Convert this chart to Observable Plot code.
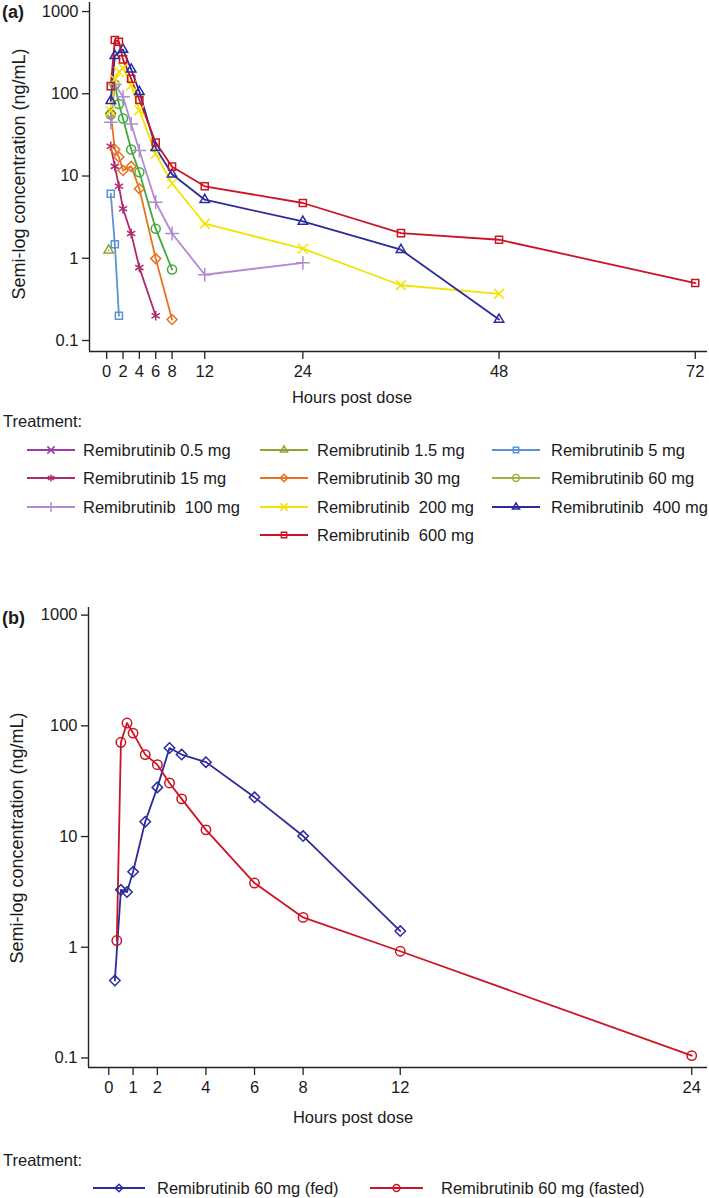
<!DOCTYPE html>
<html><head><meta charset="utf-8">
<script src="https://cdn.jsdelivr.net/npm/d3@7"></script>
<script src="https://cdn.jsdelivr.net/npm/@observablehq/plot@0.6"></script>
<style>
body{margin:0;background:#fff;font-family:"Liberation Sans",Arial,sans-serif;color:#1a1a1a;}
#page{position:relative;width:709px;height:1198px;overflow:hidden;background:#fff}
.abs{position:absolute;white-space:pre;line-height:1}
.plot{position:absolute;left:0}
</style></head><body><div id="page"></div>
<script>
// ---------- Panel (a) data ----------
const seriesA = ["Remibrutinib 0.5 mg","Remibrutinib 1.5 mg","Remibrutinib 5 mg","Remibrutinib 15 mg","Remibrutinib 30 mg","Remibrutinib 60 mg","Remibrutinib  100 mg","Remibrutinib  200 mg","Remibrutinib  400 mg","Remibrutinib  600 mg"];
const hours_0_5mg = [];            const conc_0_5mg = [];
const hours_1_5mg = [0.25];        const conc_1_5mg = [1.25];
const hours_5mg   = [0.5,1,1.5];   const conc_5mg   = [6.1,1.48,0.2];
const hours_15mg  = [0.5,1,1.5,2,3,4,6];       const conc_15mg = [23,13.1,7.5,4.0,2.0,0.77,0.2];
const hours_30mg  = [0.5,1,1.5,2,3,4,6,8];     const conc_30mg = [58,21,17,11.7,13.1,7.0,0.99,0.18];
const hours_60mg  = [0.5,1,1.5,2,3,4,6,8];     const conc_60mg = [56,130,75,50,21,11.1,2.29,0.73];
const hours_100mg = [0.5,1,2,3,4,6,8,12,24];   const conc_100mg = [45,130,92,43,20.4,4.8,2.0,0.63,0.88];
const hours_200mg = [0.5,1,1.5,2,3,4,6,8,12,24,36,48]; const conc_200mg = [62,150,185,205,126,63,18.6,8.1,2.63,1.31,0.47,0.37];
const hours_400mg = [0.5,1,2,3,4,6,8,12,24,36,48];     const conc_400mg = [82,290,345,198,106,22,10.5,5.15,2.8,1.27,0.18];
const hours_600mg = [0.5,1,1.5,2,3,4,6,8,12,24,36,48,72]; const conc_600mg = [124,450,430,262,152,84,25.5,13,7.5,4.7,2.02,1.68,0.5];
const xTicksA = [0,2,4,6,8,12,24,48,72];
const yTicks = [0.1,1,10,100,1000];

// ---------- Panel (b) data ----------
const seriesB = ["Remibrutinib 60 mg (fed)","Remibrutinib 60 mg (fasted)"];
const hours_fed    = [0.25,0.5,0.75,1,1.5,2,2.5,3,4,6,8,12];
const conc_fed     = [0.5,3.3,3.15,4.8,13.6,27.8,63,55,47,22.6,10.1,1.4];
const hours_fasted = [0.33,0.5,0.75,1,1.5,2,2.5,3,4,6,8,12,24];
const conc_fasted  = [1.15,71,106,86,55,44.6,30.5,21.9,11.5,3.8,1.86,0.92,0.105];
const xTicksB = [0,1,2,4,6,8,12,24];

// ---------- styles ----------
const colorsA = ["#9a3da6","#8fa637","#5b93d3","#b0286e","#e8731e","#3fab3a","#b28ad2","#f2e400","#2c2b9b","#cc1424"];
const legendColorsA = ["#9a3da6","#8fa637","#5b93d3","#b0286e","#e8731e","#9ab545","#b28ad2","#f2e400","#2c2b9b","#cc1424"];
const symbolsA = ["times","triangle2","square2","asterisk","diamond2","circle","plus","times","triangle2","square2"];
const colorsB = ["#2c2b9b","#cc1424"];
const symbolsB = ["diamond2","circle"];

const hoursA = [hours_0_5mg,hours_1_5mg,hours_5mg,hours_15mg,hours_30mg,hours_60mg,hours_100mg,hours_200mg,hours_400mg,hours_600mg];
const concA  = [conc_0_5mg,conc_1_5mg,conc_5mg,conc_15mg,conc_30mg,conc_60mg,conc_100mg,conc_200mg,conc_400mg,conc_600mg];
const rowsA = seriesA.flatMap((s,i)=>hoursA[i].map((h,j)=>({series:s,hours:h,conc:concA[i][j]})));
const rowsB = [
  ...hours_fed.map((h,j)=>({series:seriesB[0],hours:h,conc:conc_fed[j]})),
  ...hours_fasted.map((h,j)=>({series:seriesB[1],hours:h,conc:conc_fasted[j]}))
];

const page = document.getElementById("page");
const FS = 16.5;
const fontStyle = {fontFamily:"Liberation Sans, Arial, sans-serif", fontSize:FS+"px", color:"#1a1a1a", background:"#fff", overflow:"visible"};
const fmt = d => String(d);

function makePlot(rows, o) {
  return Plot.plot({
    width: 709, height: o.height,
    marginLeft: o.ml, marginRight: 2, marginTop: o.mt, marginBottom: o.mb,
    style: fontStyle,
    x: {type:"linear", domain:o.xd},
    y: {type:"log", domain:o.yd},
    color: {domain:o.series, range:o.colors},
    symbol: {domain:o.series, range:o.symbols},
    marks: [
      Plot.axisX({ticks:o.xt, tickSize:8, tickPadding:6, tickFormat:fmt, label:null, stroke:"#222", strokeWidth:1.3}),
      Plot.axisY({ticks:yTicks, tickSize:7, tickPadding:4, tickFormat:fmt, label:null, stroke:"#222", strokeWidth:1.3}),
      Plot.ruleX([o.xd[0]], {stroke:"#222", strokeWidth:1.4}),
      Plot.ruleY([o.yd[0]], {stroke:"#222", strokeWidth:1.4}),
      Plot.line(rows, {x:"hours", y:"conc", z:"series", stroke:"series", strokeWidth:1.8, curve:"linear"}),
      Plot.dot(rows, {x:"hours", y:"conc", symbol:"series", stroke:"series", fill:"none", r:o.r, strokeWidth:1.5})
    ]
  });
}

const pa = makePlot(rowsA, {height:410, ml:89, mt:2, mb:59, xd:[-2.1,73.5], yd:[0.0735,1288], xt:xTicksA, series:seriesA, colors:colorsA, symbols:symbolsA, r:4.5});
pa.classList.add("plot"); pa.style.top = "0px"; page.appendChild(pa);

const pb = makePlot(rowsB, {height:540, ml:88, mt:17, mb:63, xd:[-0.835,24.65], yd:[0.082,1172], xt:xTicksB, series:seriesB, colors:colorsB, symbols:symbolsB, r:4.7});
pb.classList.add("plot"); pb.style.top = "590px"; page.appendChild(pb);

function addText(txt, left, cy, opts={}) {
  const d = document.createElement("div");
  d.className = "abs";
  d.textContent = txt;
  d.style.fontSize = (opts.size||FS)+"px";
  if (opts.bold) d.style.fontWeight = "bold";
  d.style.left = left+"px";
  d.style.top = cy+"px";
  let tr = "translateY(-50%)";
  if (opts.center) tr = "translate(-50%,-50%)";
  if (opts.rotate) tr = "translate(-50%,-50%) rotate(-90deg)";
  d.style.transform = tr;
  page.appendChild(d);
  return d;
}

function swatch(color, symbol, left, cy, w) {
  const svg = d3.create("svg").attr("width", w+4).attr("height", 16)
    .style("position","absolute").style("left",(left-2)+"px").style("top",(cy-8)+"px").style("overflow","visible");
  svg.append("line").attr("x1",2).attr("x2",w+2).attr("y1",8).attr("y2",8).attr("stroke",color).attr("stroke-width",1.8);
  const symMap = {times:d3.symbolTimes, triangle2:d3.symbolTriangle2, square2:d3.symbolSquare2, asterisk:d3.symbolAsterisk, diamond2:d3.symbolDiamond2, circle:d3.symbolCircle, plus:d3.symbolPlus};
  svg.append("path").attr("d", d3.symbol(symMap[symbol], 36)()).attr("transform",`translate(${2+w/2},8)`)
    .attr("fill","none").attr("stroke",color).attr("stroke-width",1.5);
  page.appendChild(svg.node());
}

// panel labels and axis titles
addText("(a)", 2, 12, {bold:true, size:18});
addText("(b)", 2, 618, {bold:true, size:18});
addText("Semi-log concentration (ng/mL)", 19, 174, {rotate:true, size:18});
addText("Semi-log concentration (ng/mL)", 17, 838, {rotate:true, size:18});
addText("Hours post dose", 352, 397, {center:true});
addText("Hours post dose", 353, 1117, {center:true});

// legend (a)
addText("Treatment:", 3, 421);
const legCols = [[27,83],[260,317],[492,551]];
const legRows = [450,478,507,535];
const legPos = [[0,0],[0,1],[0,2],[1,0],[1,1],[1,2],[2,0],[2,1],[2,2],[3,1]];
seriesA.forEach((s,i)=>{
  const [r,c] = legPos[i];
  swatch(legendColorsA[i], symbolsA[i], legCols[c][0], legRows[r], 48);
  addText(s, legCols[c][1], legRows[r]);
});

// legend (b)
addText("Treatment:", 3, 1160);
swatch(colorsB[0], symbolsB[0], 93, 1188, 52);
addText(seriesB[0], 157, 1188);
swatch(colorsB[1], symbolsB[1], 370, 1188, 53);
addText(seriesB[1], 441, 1188);
</script></body></html>
